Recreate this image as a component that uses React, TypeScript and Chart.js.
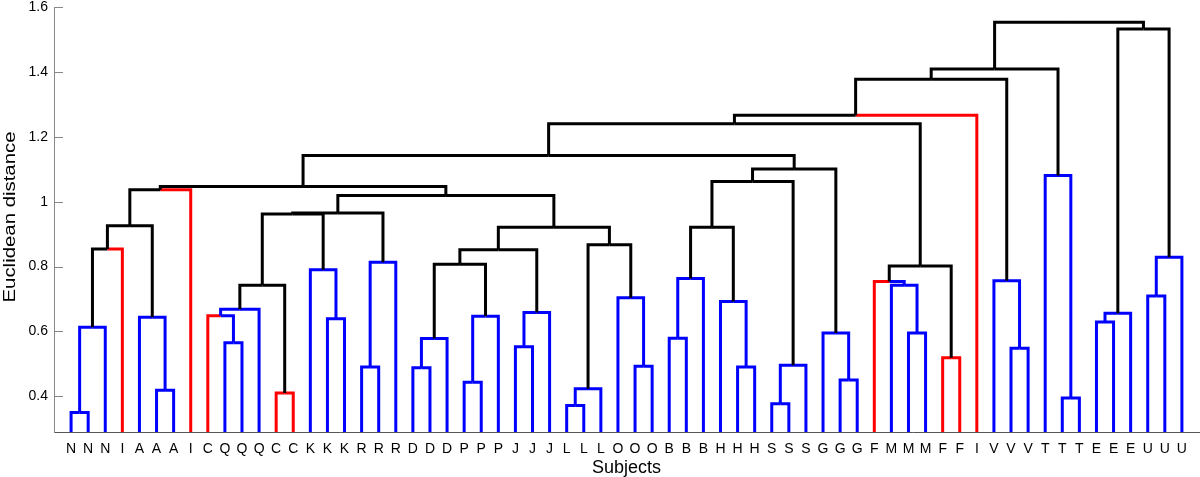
import React, { useEffect, useRef } from 'react';
import { Chart, registerables } from 'chart.js';

Chart.register(...registerables);

// Leaf labels (left to right along the x axis)
const leafLabels = [
  'N', 'N', 'N', 'I', 'A', 'A', 'A', 'I', 'C', 'Q', 'Q', 'Q', 'C', 'C',
  'K', 'K', 'K', 'R', 'R', 'R', 'D', 'D', 'D', 'P', 'P', 'P', 'J', 'J', 'J',
  'L', 'L', 'L', 'O', 'O', 'O', 'B', 'B', 'B', 'H', 'H', 'H', 'S', 'S', 'S',
  'G', 'G', 'G', 'F', 'M', 'M', 'M', 'F', 'F', 'I', 'V', 'V', 'V',
  'T', 'T', 'T', 'E', 'E', 'E', 'U', 'U', 'U',
];

// Linkage: children are leaf indices (0..65) or cluster ids (66 + link index)
const linkLeft = [
  0, 66, 67, 5, 4, 68, 71, 9, 8, 74, 12, 75, 15, 14, 77, 17, 81, 80,
  20, 84, 23, 86, 85, 26, 89, 88, 29, 92, 33, 32, 93, 91, 83, 72,
  35, 100, 39, 38, 101, 41, 105, 104, 45, 44, 107, 99,
  49, 48, 47, 51, 114, 111, 117, 55, 54, 118, 58, 57, 121, 60, 125, 63, 127, 126, 124,
];
const linkRight = [
  1, 2, 3, 6, 69, 70, 7, 10, 73, 11, 13, 76, 16, 78, 79, 18, 19, 82,
  21, 22, 24, 25, 87, 27, 28, 90, 30, 31, 34, 94, 95, 96, 97, 98,
  36, 37, 40, 102, 103, 42, 43, 106, 46, 108, 109, 110,
  50, 112, 113, 52, 115, 116, 53, 56, 119, 120, 59, 122, 123, 61, 62, 64, 65, 128, 129,
];
// Merge heights (Euclidean distance)
const linkHeight = [
  0.35, 0.613, 0.854, 0.419, 0.644, 0.926, 1.037, 0.565, 0.648, 0.668, 0.41, 0.742, 0.639, 0.79, 0.962, 0.49, 0.813, 0.965,
  0.488, 0.578, 0.443, 0.647, 0.807, 0.553, 0.658, 0.852, 0.372, 0.423, 0.493, 0.704, 0.867, 0.921, 1.019, 1.047,
  0.579, 0.763, 0.49, 0.692, 0.921, 0.377, 0.496, 1.062, 0.45, 0.595, 1.101, 1.142,
  0.595, 0.742, 0.754, 0.519, 0.802, 1.24, 1.266, 0.548, 0.756, 1.377, 0.395, 1.081, 1.409, 0.629, 0.656, 0.709, 0.829, 1.532, 1.553,
];
// Group of the left / right half of each link: b = within-subject, r = misplaced, k = between
const linkGroups = [
  'bb', 'bb', 'kr', 'bb', 'bb', 'kk', 'kr', 'bb', 'rb', 'bb', 'rr', 'kk', 'bb', 'bb', 'kk', 'bb', 'bb', 'kk',
  'bb', 'bb', 'bb', 'bb', 'kk', 'bb', 'bb', 'kk', 'bb', 'bb', 'bb', 'bb', 'kk', 'kk', 'kk', 'kk',
  'bb', 'bb', 'bb', 'bb', 'kk', 'bb', 'bb', 'kk', 'bb', 'bb', 'kk', 'kk',
  'bb', 'bb', 'rb', 'rr', 'kk', 'kk', 'kr', 'bb', 'bb', 'kk', 'bb', 'bb', 'kk', 'bb', 'bb', 'bb', 'bb', 'kk', 'kk',
];

const yTickValues = [0.4, 0.6, 0.8, 1.0, 1.2, 1.4, 1.6];
const Y_MIN = 0.29;
const Y_MAX = 1.6;

const groupColor: Record<string, string> = { b: '#0000ff', r: '#ff0000', k: '#000000' };
const FONT = '"Liberation Sans", Arial, Helvetica, sans-serif';

function buildDatasets() {
  const n = leafLabels.length;
  const xs: number[] = [];
  const hs: number[] = [];
  for (let i = 0; i < n; i++) {
    xs.push(i + 1);
    hs.push(Y_MIN);
  }
  const datasets: any[] = [];
  for (let k = 0; k < linkHeight.length; k++) {
    const l = linkLeft[k];
    const r = linkRight[k];
    const h = linkHeight[k];
    const xl = xs[l];
    const xr = xs[r];
    const xm = (xl + xr) / 2;
    const g = linkGroups[k];
    const common = {
      showLine: true,
      pointRadius: 0,
      pointHoverRadius: 0,
      borderWidth: 3,
      borderJoinStyle: 'miter',
      borderCapStyle: 'butt',
      tension: 0,
      fill: false,
      order: -k,
    };
    datasets.push({
      ...common,
      data: [{ x: xl, y: hs[l] }, { x: xl, y: h }, { x: xm, y: h }],
      borderColor: groupColor[g[0]],
    });
    datasets.push({
      ...common,
      data: [{ x: xm, y: h }, { x: xr, y: h }, { x: xr, y: hs[r] }],
      borderColor: groupColor[g[1]],
    });
    xs.push(xm);
    hs.push(h);
  }
  return datasets;
}

const decorPlugin = {
  id: 'decor',
  afterDraw(chart: any) {
    const ctx = chart.ctx;
    const area = chart.chartArea;
    const yScale = chart.scales.y;
    ctx.save();
    // inward y ticks
    ctx.strokeStyle = '#888888';
    ctx.lineWidth = 1;
    for (const v of yTickValues) {
      const py = Math.round(yScale.getPixelForValue(v)) + 0.5;
      ctx.beginPath();
      ctx.moveTo(area.left, py);
      ctx.lineTo(area.left + 9, py);
      ctx.stroke();
    }
    // y axis title
    ctx.fillStyle = '#000000';
    ctx.font = `16px ${FONT}`;
    const yTitle = 'Euclidean distance';
    const w = ctx.measureText(yTitle).width;
    const stretch = 171 / w;
    ctx.translate(15, 217);
    ctx.rotate(-Math.PI / 2);
    ctx.scale(stretch, 1);
    ctx.textAlign = 'center';
    ctx.textBaseline = 'alphabetic';
    ctx.fillText(yTitle, 0, 0);
    ctx.restore();
    // x axis title
    ctx.save();
    ctx.fillStyle = '#000000';
    ctx.font = `18px ${FONT}`;
    ctx.textAlign = 'center';
    ctx.textBaseline = 'alphabetic';
    ctx.fillText('Subjects', (area.left + area.right) / 2, 473);
    ctx.restore();
  },
};

export default function App() {
  const canvasRef = useRef<HTMLCanvasElement | null>(null);

  useEffect(() => {
    document.body.style.margin = '0';
    const canvas = canvasRef.current;
    if (!canvas) return;
    const chart = new Chart(canvas, {
      type: 'scatter',
      data: { datasets: buildDatasets() },
      options: {
        responsive: false,
        animation: false,
        events: [],
        layout: { padding: { top: 7, right: 1, left: 0, bottom: 0 } },
        plugins: {
          legend: { display: false },
          tooltip: { enabled: false },
          title: { display: false },
        },
        scales: {
          x: {
            type: 'linear',
            min: 0,
            max: leafLabels.length + 1,
            grid: { display: false, drawTicks: false },
            border: { display: true, color: '#555555', width: 1 },
            ticks: {
              stepSize: 1,
              autoSkip: false,
              maxRotation: 0,
              minRotation: 0,
              padding: 10,
              color: '#000000',
              font: { family: FONT, size: 14, lineHeight: 1 },
              callback: (v: any) => {
                const i = Math.round(Number(v)) - 1;
                return i >= 0 && i < leafLabels.length ? leafLabels[i] : '';
              },
            },
            afterFit: (scale: any) => {
              scale.height = 45;
              scale.paddingLeft = 0;
              scale.paddingRight = 0;
              scale.paddingTop = 0;
              scale.paddingBottom = 0;
            },
          },
          y: {
            type: 'linear',
            min: Y_MIN,
            max: Y_MAX,
            grid: { display: false, drawTicks: false },
            border: { display: true, color: '#888888', width: 1 },
            ticks: {
              stepSize: 0.2,
              includeBounds: false,
              padding: 6,
              color: '#000000',
              font: { family: FONT, size: 14, lineHeight: 1 },
              callback: (v: any) => String(Number(Number(v).toFixed(1))),
            },
            afterFit: (scale: any) => {
              scale.width = 54;
              scale.paddingLeft = 0;
              scale.paddingRight = 0;
              scale.paddingTop = 0;
              scale.paddingBottom = 0;
            },
          },
        },
      },
      plugins: [decorPlugin],
    } as any);
    return () => chart.destroy();
  }, []);

  return (
    <div style={{ width: 1200, height: 477, background: '#ffffff' }}>
      <canvas ref={canvasRef} width={1200} height={477} style={{ display: 'block', width: 1200, height: 477 }} />
    </div>
  );
}
